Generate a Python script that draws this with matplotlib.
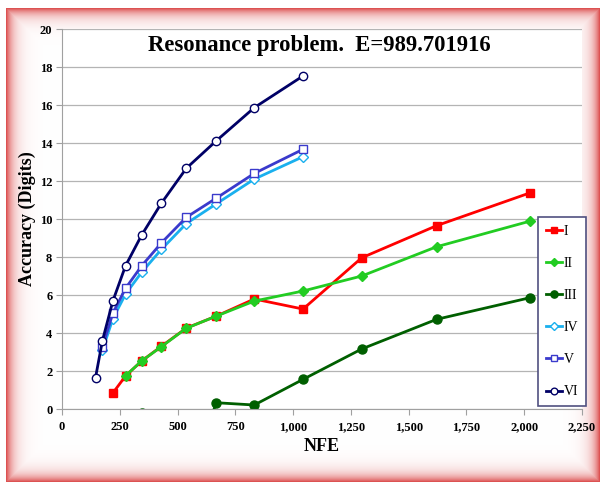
import matplotlib.pyplot as plt
import numpy as np
from matplotlib.ticker import FuncFormatter, MultipleLocator

# NFE positions
nfe_vi = [145, 175, 220, 275, 345, 430, 538, 668, 832, 1043]
acc_vi = [1.65, 3.6, 5.68, 7.54, 9.16, 10.83, 12.67, 14.12, 15.86, 17.53]

nfe_v = [175, 220, 275, 345, 430, 538, 668, 832, 1043]
acc_v = [3.28, 5.04, 6.35, 7.54, 8.74, 10.09, 11.1, 12.4, 13.67]

nfe_iv = [175, 220, 275, 345, 430, 538, 668, 832, 1043]
acc_iv = [3.1, 4.75, 6.05, 7.2, 8.4, 9.76, 10.8, 12.1, 13.28]

nfe_i = [220, 275, 345, 430, 538, 668, 832, 1043, 1297, 1621, 2026]
acc_i = [0.84, 1.74, 2.53, 3.3, 4.26, 4.89, 5.79, 5.26, 7.96, 9.65, 11.38]

nfe_ii = [275, 345, 430, 538, 668, 832, 1043, 1297, 1621, 2026]
acc_ii = [1.75, 2.53, 3.28, 4.25, 4.89, 5.68, 6.21, 7.0, 8.54, 9.89]

# first III values fall below the axis (clipped in the original)
nfe_iii = [345, 430, 538, 668, 832, 1043, 1297, 1621, 2026]
acc_iii = [-0.2, -4.0, -4.0, 0.33, 0.21, 1.56, 3.16, 4.72, 5.86]

plt.rcParams["font.family"] = "Liberation Serif"

W, H = 601, 483
fig = plt.figure(figsize=(W / 100, H / 100), dpi=100)

# reddish glow frame behind the chart
bg = fig.add_axes([0, 0, 1, 1], zorder=0)
yy, xx = np.mgrid[0:H, 0:W]
x0, x1, y0, y1 = 6, 599, 8, 481
d = np.minimum.reduce([xx - x0, x1 - xx, yy - y0, y1 - yy]).astype(float)
inside = d >= 0
k = np.where(inside, 0.9 * np.exp(-np.clip(d, 0, None) / 7.0), 0.0)
red = np.array([0.85, 0.25, 0.25])
img = np.ones((H, W, 3)) * (1 - k[..., None]) + red * k[..., None]
bg.imshow(img, extent=[0, W, H, 0], aspect="auto", interpolation="bilinear")
bg.set_xlim(0, W)
bg.set_ylim(H, 0)
bg.axis("off")

ax = fig.add_axes([62 / W, 1 - 409 / H, 520 / W, 380 / H], zorder=1)
ax.set_facecolor("white")

ax.plot(nfe_i, acc_i, color="#ff0000", lw=2, marker="s", ms=6, label="I")
ax.plot(nfe_ii, acc_ii, color="#22cc22", lw=2, marker="D", ms=5, label="II")
ax.plot(nfe_iii, acc_iii, color="#005f00", lw=2, marker="o", ms=6.5, label="III")
ax.plot(nfe_iv, acc_iv, color="#1ab0ee", lw=2, marker="D", ms=5,
        mfc="white", mew=1, label="IV")
ax.plot(nfe_v, acc_v, color="#3a3acc", lw=2, marker="s", ms=6,
        mfc="white", mew=1, label="V")
ax.plot(nfe_vi, acc_vi, color="#000066", lw=2, marker="o", ms=6,
        mfc="white", mew=1, label="VI")

ax.set_xlim(0, 2250)
ax.set_ylim(0, 20)
ax.xaxis.set_major_locator(MultipleLocator(250))
ax.yaxis.set_major_locator(MultipleLocator(2))
ax.xaxis.set_major_formatter(FuncFormatter(lambda v, p: f"{int(v):,}"))

ax.grid(axis="y", color="#b4b4b4", lw=0.9)
ax.set_axisbelow(True)
for s in ["top", "right"]:
    ax.spines[s].set_visible(False)
for s in ["left", "bottom"]:
    ax.spines[s].set_color("#a0a0a0")

ax.tick_params(axis="both", color="#a0a0a0", length=4, width=0.8, labelsize=9)
ax.tick_params(axis="x", pad=5)
ax.tick_params(axis="y", pad=3)
for lab in ax.get_xticklabels() + ax.get_yticklabels():
    lab.set_fontweight("bold")

ax.set_xlabel("NFE", weight="bold", size=13, labelpad=3)
ax.set_ylabel("Accuracy (Digits)", weight="bold", size=13, labelpad=3)

fig.text(319 / W, 1 - 45 / H, "Resonance problem.  E=989.701916",
         weight="bold", size=16.3, ha="center", va="center", zorder=3)

leg = ax.legend(loc="upper left", bbox_to_anchor=(538 / W, 1 - 217 / H),
                bbox_transform=fig.transFigure, frameon=True, fancybox=False,
                prop=dict(size=10), framealpha=1,
                handlelength=1.2, handletextpad=0.1, labelspacing=1.38,
                borderpad=0.55, borderaxespad=0, markerscale=0.8)
leg.get_frame().set_edgecolor("#505080")
leg.get_frame().set_linewidth(1.2)

fig.savefig("out.png", dpi=100)
